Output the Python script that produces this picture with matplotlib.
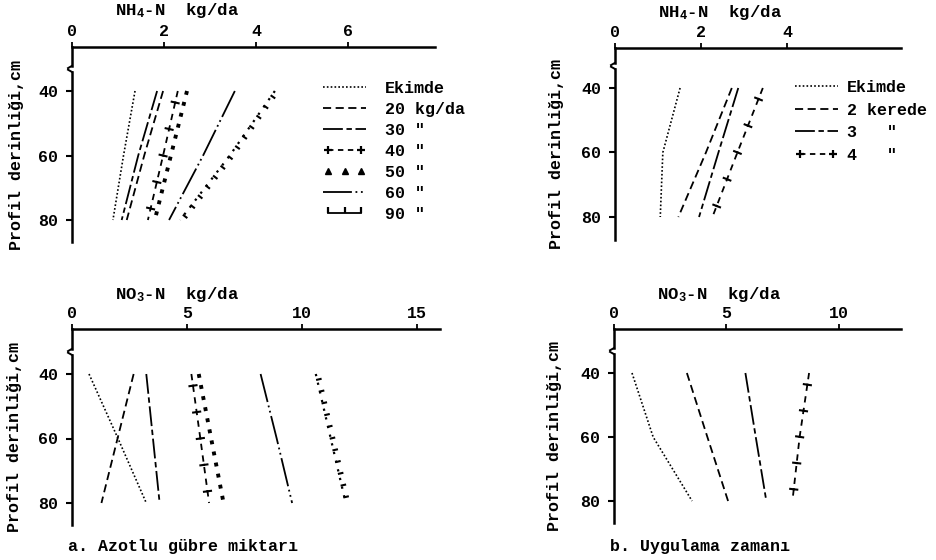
import matplotlib
matplotlib.use('Agg')
import matplotlib.pyplot as plt
import matplotlib.patheffects as pe
from matplotlib.lines import Line2D
from matplotlib.legend_handler import HandlerLine2D

plt.rcParams['font.family'] = ['Liberation Mono', 'DejaVu Sans Mono']
plt.rcParams['font.weight'] = 'bold'
plt.rcParams['font.size'] = 12
plt.rcParams['mathtext.default'] = 'regular'

# depth of the soil profile (cm)
depth = [40, 60, 80]

# a. Azotlu gubre miktari, NH4-N kg/da
nh4_a_ekimde = [1.37, 1.12, 0.89]
nh4_a_20 = [1.98, 1.57, 1.19]
nh4_a_30 = [1.85, 1.44, 1.08]
nh4_a_40 = [2.30, 1.98, 1.65]
nh4_a_50 = [2.50, 2.15, 1.80]
nh4_a_60 = [3.54, 2.85, 2.11]
nh4_a_90 = [4.41, 3.43, 2.35]

# b. Uygulama zamani, NH4-N kg/da
nh4_b_ekimde = [1.51, 1.11, 1.05]
nh4_b_2 = [2.71, 2.11, 1.47]
nh4_b_3 = [2.86, 2.40, 1.95]
nh4_b_4 = [3.43, 2.84, 2.26]

# a. NO3-N kg/da
no3_a_ekimde = [0.74, 2.00, 3.23]
no3_a_20 = [2.68, 1.98, 1.28]
no3_a_30 = [3.23, 3.52, 3.81]
no3_a_40 = [5.19, 5.58, 5.96]
no3_a_50 = [5.51, 6.05, 6.59]
no3_a_60 = [8.20, 8.90, 9.57]
no3_a_90 = [10.60, 11.25, 11.90]

# b. NO3-N kg/da
no3_b_ekimde = [0.80, 1.74, 3.47]
no3_b_2 = [3.24, 4.15, 5.07]
no3_b_3 = [5.84, 6.30, 6.77]
no3_b_4 = [8.67, 8.25, 7.93]

labels_a = ['Ekimde', '20 kg/da', '30 "', '40 "', '50 "', '60 "', '90 "']
labels_b = ['Ekimde', '2 kerede', '3   "', '4   "']

W, H = 937, 560
fig = plt.figure(figsize=(W / 100, H / 100), dpi=100)

LW = 1.3
styles = {
    'dot': dict(ls=(0, (1, 1.3)), lw=1.2),
    'dash': dict(ls=(0, (4.5, 2.5)), lw=LW),
    'longshort': dict(ls=(0, (11, 2, 3, 2)), lw=LW),
    'dashdotdot': dict(ls=(0, (16, 2, 1, 2, 1, 2)), lw=LW),
}


def series(ax, x, kind):
    if kind in styles:
        ax.plot(x, depth, color='k', **styles[kind])
    elif kind == 'plus':
        ax.plot(x, depth, color='k', ls=(0, (3.5, 3)), lw=LW)
        ax.plot(x, depth, color='k', lw=1.5,
                path_effects=[pe.TickedStroke(spacing=17, angle=90, length=0.15),
                              pe.TickedStroke(spacing=17, angle=-90, length=0.15)])
    elif kind == 'tri':
        ax.plot(x, depth, color='k', ls=(0, (1, 1.9)), lw=2.8)
    elif kind == 'perp':
        ax.plot(x, depth, color='k', ls=(0, (1, 3)), lw=1.6)
        ax.plot(x, depth, color='k', lw=1.5,
                path_effects=[pe.TickedStroke(spacing=8.5, angle=90, length=0.3)])


def handle(kind):
    if kind in styles:
        return Line2D([], [], color='k', **styles[kind])
    if kind == 'plus':
        return Line2D([], [], color='k', ls=(0, (3, 2.5)), lw=LW, marker='+', ms=6, mew=1.6)
    if kind == 'tri':
        return Line2D([], [], color='k', ls='none', marker='^', ms=5)
    return Line2D([], [], color='k', lw=LW, marker=2, ms=4, mew=1.6)


def make_ax(left, top, right, bottom, y40, y80, x0, xunit, xticks, ylab_x):
    ppu = (y80 - y40) / 40.0
    ytop = 40 - (y40 - top) / ppu
    ybot = 80 + (bottom - y80) / ppu
    ax = fig.add_axes([left / W, 1 - bottom / H, (right - left) / W, (bottom - top) / H])
    ax.set_xlim(-(x0 - left) / xunit, (right - x0) / xunit)
    ax.set_ylim(ybot, ytop)
    for s in ['right', 'bottom']:
        ax.spines[s].set_visible(False)
    ax.spines['top'].set_linewidth(1.8)
    ax.spines['left'].set_linewidth(1.8)
    ax.spines['left'].set_bounds(ybot, 34.1)
    ax.xaxis.tick_top()
    ax.set_xticks(xticks)
    ax.set_yticks([40, 60, 80])
    ax.tick_params(axis='x', direction='out', length=3.5, width=1.3, pad=2)
    ax.tick_params(axis='y', direction='out', length=4, width=1.5, pad=6)
    # broken y axis
    tr = ax.get_yaxis_transform()
    dx = 4.0 / (right - left)
    ax.plot([0, 0], [ytop, 32.2], color='k', lw=1.8, transform=tr, clip_on=False)
    ax.plot([0, -dx], [32.2, 32.9], color='k', lw=1.4, transform=tr, clip_on=False)
    ax.plot([-dx, 0], [33.4, 34.1], color='k', lw=1.4, transform=tr, clip_on=False)
    fig.text(ylab_x / W, 1 - (top + bottom + 20) / 2 / H, 'Profil derinliği,cm',
             rotation=90, ha='center', va='center')
    return ax


kinds_a = ['dot', 'dash', 'longshort', 'plus', 'tri', 'dashdotdot', 'perp']
kinds_b = ['dot', 'dash', 'longshort', 'plus']

# top left
ax1 = make_ax(72, 47, 435, 242, 91, 220, 72, 46.0, [0, 2, 4, 6], 17)
for x, k in zip([nh4_a_ekimde, nh4_a_20, nh4_a_30, nh4_a_40, nh4_a_50, nh4_a_60, nh4_a_90], kinds_a):
    series(ax1, x, k)
hm = {}
hs = []
for k in kinds_a:
    h = handle(k)
    hs.append(h)
    if k == 'plus':
        hm[h] = HandlerLine2D(numpoints=2)
    elif k in ('tri', 'perp'):
        hm[h] = HandlerLine2D(numpoints=3)
fig.legend(hs, labels_a, handler_map=hm, loc='upper left', bbox_to_anchor=(323 / W, 1 - 81 / H),
           frameon=False, borderpad=0, borderaxespad=0, handlelength=2.6, handletextpad=1.1,
           labelspacing=0.36)
fig.text(115 / W, 1 - 11 / H, 'NH$_4$-N  kg/da', ha='left', va='center', fontsize=12.5)

# top right
ax2 = make_ax(615, 48, 901, 240, 88, 217, 615, 43.1, [0, 2, 4], 557)
for x, k in zip([nh4_b_ekimde, nh4_b_2, nh4_b_3, nh4_b_4], kinds_b):
    series(ax2, x, k)
hm = {}
hs = []
for k in kinds_b:
    h = handle(k)
    hs.append(h)
    if k == 'plus':
        hm[h] = HandlerLine2D(numpoints=2)
fig.legend(hs, labels_b, handler_map=hm, loc='upper left', bbox_to_anchor=(795 / W, 1 - 80 / H),
           frameon=False, borderpad=0, borderaxespad=0, handlelength=2.6, handletextpad=0.5,
           labelspacing=0.46)
fig.text(658 / W, 1 - 12 / H, 'NH$_4$-N  kg/da', ha='left', va='center', fontsize=12.5)

# bottom left
ax3 = make_ax(72, 329, 440, 525, 374, 503, 72, 23.0, [0, 5, 10, 15], 15)
for x, k in zip([no3_a_ekimde, no3_a_20, no3_a_30, no3_a_40, no3_a_50, no3_a_60, no3_a_90], kinds_a):
    series(ax3, x, k)
fig.text(115 / W, 1 - 295 / H, 'NO$_3$-N  kg/da', ha='left', va='center', fontsize=12.5)
fig.text(68 / W, 1 - 547 / H, 'a. Azotlu gübre miktarı', ha='left', va='center')

# bottom right
ax4 = make_ax(614, 329, 901, 523, 373, 501, 614, 22.5, [0, 5, 10], 555)
for x, k in zip([no3_b_ekimde, no3_b_2, no3_b_3, no3_b_4], kinds_b):
    series(ax4, x, k)
fig.text(657 / W, 1 - 294 / H, 'NO$_3$-N  kg/da', ha='left', va='center', fontsize=12.5)
fig.text(610 / W, 1 - 547 / H, 'b. Uygulama zamanı', ha='left', va='center')

fig.savefig('out.png', dpi=100)
